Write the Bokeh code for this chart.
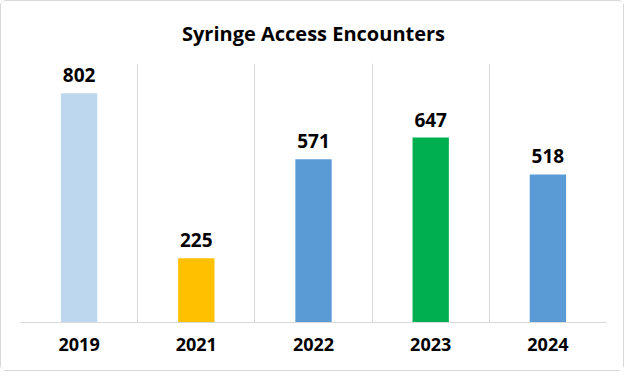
from bokeh.plotting import figure
from bokeh.models import ColumnDataSource, Range1d, FixedTicker, Grid, LabelSet
from bokeh.core.properties import value
from bokeh.embed import file_html
from bokeh.resources import INLINE

years = ["2019", "2021", "2022", "2023", "2024"]
counts = [802, 225, 571, 647, 518]
colors = ["#BDD7EE", "#FFC000", "#5B9BD5", "#00B050", "#5B9BD5"]

FONT = "Open Sans"

xs = [i + 0.5 for i in range(len(years))]
src = ColumnDataSource(dict(x=xs, y=counts, c=colors, t=[str(v) for v in counts]))

p = figure(width=624, height=371, output_backend="svg", toolbar_location=None,
           x_range=Range1d(0, len(years)), y_range=Range1d(0, 906),
           min_border_left=19, min_border_right=19, min_border_top=62, min_border_bottom=50,
           title="Syringe Access Encounters")
p.title.align = "center"
p.title.text_font = FONT
p.title.text_font_style = "bold"
p.title.text_font_size = "20px"
p.title.text_color = "#000000"
p.title.offset = 0
p.title.standoff = 33

p.vbar(x="x", top="y", width=0.31, fill_color="c", line_color=None, source=src)

labels = LabelSet(x="x", y="y", text="t", source=src, text_align="center", text_baseline="bottom",
                  y_offset=11, text_font=value(FONT), text_font_style="bold", text_font_size="19px",
                  text_color="#000000")
p.add_layout(labels)

p.xgrid.visible = False
p.ygrid.visible = False
g = Grid(dimension=0, ticker=FixedTicker(ticks=list(range(len(years) + 1))),
         grid_line_color="#D9D9D9", grid_line_width=1)
p.add_layout(g)

p.yaxis.visible = False
ax = p.xaxis[0]
ax.ticker = FixedTicker(ticks=xs)
ax.major_label_overrides = {x: y for x, y in zip(xs, years)}
ax.major_tick_line_color = None
ax.minor_tick_line_color = None
ax.axis_line_color = "#D9D9D9"
ax.major_label_text_font = FONT
ax.major_label_text_font_style = "bold"
ax.major_label_text_font_size = "18px"
ax.major_label_text_color = "#000000"
ax.major_label_standoff = 9

p.outline_line_color = None
p.background_fill_color = "white"
p.border_fill_color = "white"
p.styles = {"border": "1px solid #D9D9D9", "border-radius": "6px"}

open("out.html", "w").write(file_html(p, INLINE))
